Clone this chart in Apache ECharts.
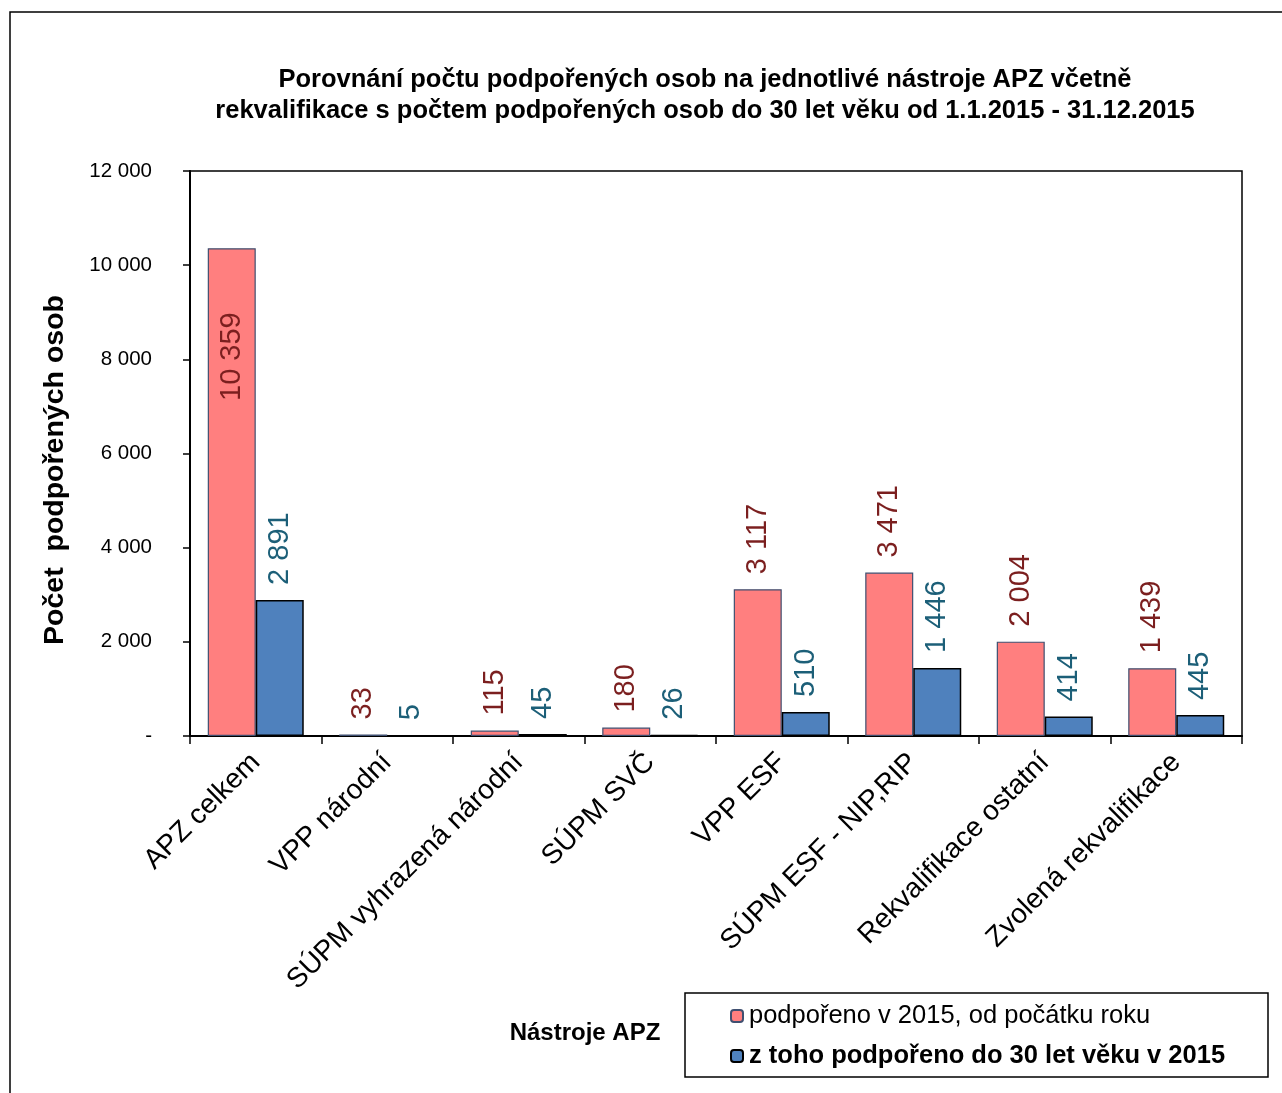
<!DOCTYPE html>
<html>
<head>
<meta charset="utf-8">
<script src="https://cdn.jsdelivr.net/npm/echarts@6/dist/echarts.min.js"></script>
<style>
  html, body { margin: 0; padding: 0; background: #fff; }
  #chart { width: 1282px; height: 1093px; }
</style>
</head>
<body>
<div id="chart"></div>
<script>
const categories = ['APZ celkem', 'VPP národní', 'SÚPM vyhrazená národní', 'SÚPM SVČ', 'VPP ESF', 'SÚPM ESF - NIP,RIP', 'Rekvalifikace ostatní', 'Zvolená rekvalifikace'];
const supported2015 = [10359, 33, 115, 180, 3117, 3471, 2004, 1439];
const under30 = [2891, 5, 45, 26, 510, 1446, 414, 445];
const seriesNames = ['podpořeno v 2015, od počátku roku', 'z toho podpořeno do 30 let věku v 2015'];

const FONT = 'Liberation Sans, Arial, sans-serif';

function fmt(n) {
  return String(n).replace(/\B(?=(\d{3})+(?!\d))/g, ' ');
}

const chart = echarts.init(document.getElementById('chart'));

const labelBase = {
  show: true,
  position: 'top',
  rotate: 90,
  align: 'left',
  verticalAlign: 'middle',
  distance: 15,
  fontFamily: FONT,
  fontSize: 29,
  formatter: (p) => fmt(p.value)
};

chart.setOption({
  backgroundColor: '#fff',
  animation: false,
  title: {
    text: 'Porovnání počtu podpořených osob na jednotlivé nástroje APZ včetně\nrekvalifikace s počtem podpořených osob do 30 let věku od 1.1.2015 - 31.12.2015',
    left: 700,
    textAlign: 'center',
    top: 59,
    textStyle: { fontFamily: FONT, fontSize: 25.5, fontWeight: 'bold', color: '#000', lineHeight: 31 }
  },
  graphic: [
    {
      type: 'rect',
      shape: { x: 10, y: 12, width: 1300, height: 1120 },
      style: { fill: 'none', stroke: '#000', lineWidth: 1.5 },
      silent: true
    },
    {
      type: 'rect',
      shape: { x: 685, y: 993, width: 583, height: 84 },
      style: { fill: '#fff', stroke: '#000', lineWidth: 1.5 },
      z: 0,
      silent: true
    },
    {
      type: 'text',
      x: 585,
      y: 1033,
      style: { text: 'Nástroje APZ', font: 'bold 24px ' + FONT, fill: '#000', align: 'center', verticalAlign: 'middle' },
      silent: true
    },
    {
      type: 'text',
      x: 55,
      y: 470,
      rotation: Math.PI / 2,
      style: { text: 'Počet  podpořených osob', font: 'bold 28.5px ' + FONT, fill: '#000', align: 'center', verticalAlign: 'middle' },
      silent: true
    }
  ],
  legend: {
    orient: 'vertical',
    left: 730,
    top: 1003,
    itemWidth: 12,
    itemHeight: 12,
    itemGap: 14,
    padding: 0,
    z: 5,
    data: [
      { name: seriesNames[0], textStyle: { fontWeight: 'normal' } },
      { name: seriesNames[1], textStyle: { fontWeight: 'bold' } }
    ],
    textStyle: { fontFamily: FONT, fontSize: 25.5, color: '#000', padding: [0, 0, 0, 1] }
  },
  grid: {
    left: 190,
    right: 40,
    top: 171,
    bottom: 357,
    show: true,
    borderColor: '#000',
    borderWidth: 1.5
  },
  xAxis: {
    type: 'category',
    data: categories,
    axisLine: { lineStyle: { color: '#000', width: 2 } },
    axisTick: { show: true, length: 8, lineStyle: { color: '#000', width: 1.5 } },
    axisLabel: {
      rotate: 45,
      interval: 0,
      margin: 22,
      fontFamily: FONT,
      fontSize: 28,
      color: '#000'
    }
  },
  yAxis: {
    type: 'value',
    min: 0,
    max: 12000,
    interval: 2000,
    axisLine: { show: true, lineStyle: { color: '#000', width: 2 } },
    axisTick: { show: true, length: 7, lineStyle: { color: '#000', width: 1.5 } },
    splitLine: { show: false },
    axisLabel: {
      fontFamily: FONT,
      fontSize: 20.5,
      color: '#000',
      margin: 38,
      formatter: (v) => (v === 0 ? '-' : fmt(v))
    }
  },
  series: [
    {
      name: seriesNames[0],
      type: 'bar',
      barWidth: 48,
      barGap: '0%',
      itemStyle: { color: '#ff7f7f', borderColor: '#3f4f70', borderWidth: 1.2 },
      label: Object.assign({}, labelBase, { color: '#7b1f1f' }),
      data: supported2015.map((v, i) => i === 0
        ? { value: v, label: { position: 'insideTop', align: 'right', distance: 64 } }
        : v)
    },
    {
      name: seriesNames[1],
      type: 'bar',
      barWidth: 48,
      itemStyle: { color: '#4f81bd', borderColor: '#000', borderWidth: 1.5 },
      label: Object.assign({}, labelBase, { color: '#1c5f78' }),
      data: under30
    }
  ]
});
</script>
</body>
</html>
